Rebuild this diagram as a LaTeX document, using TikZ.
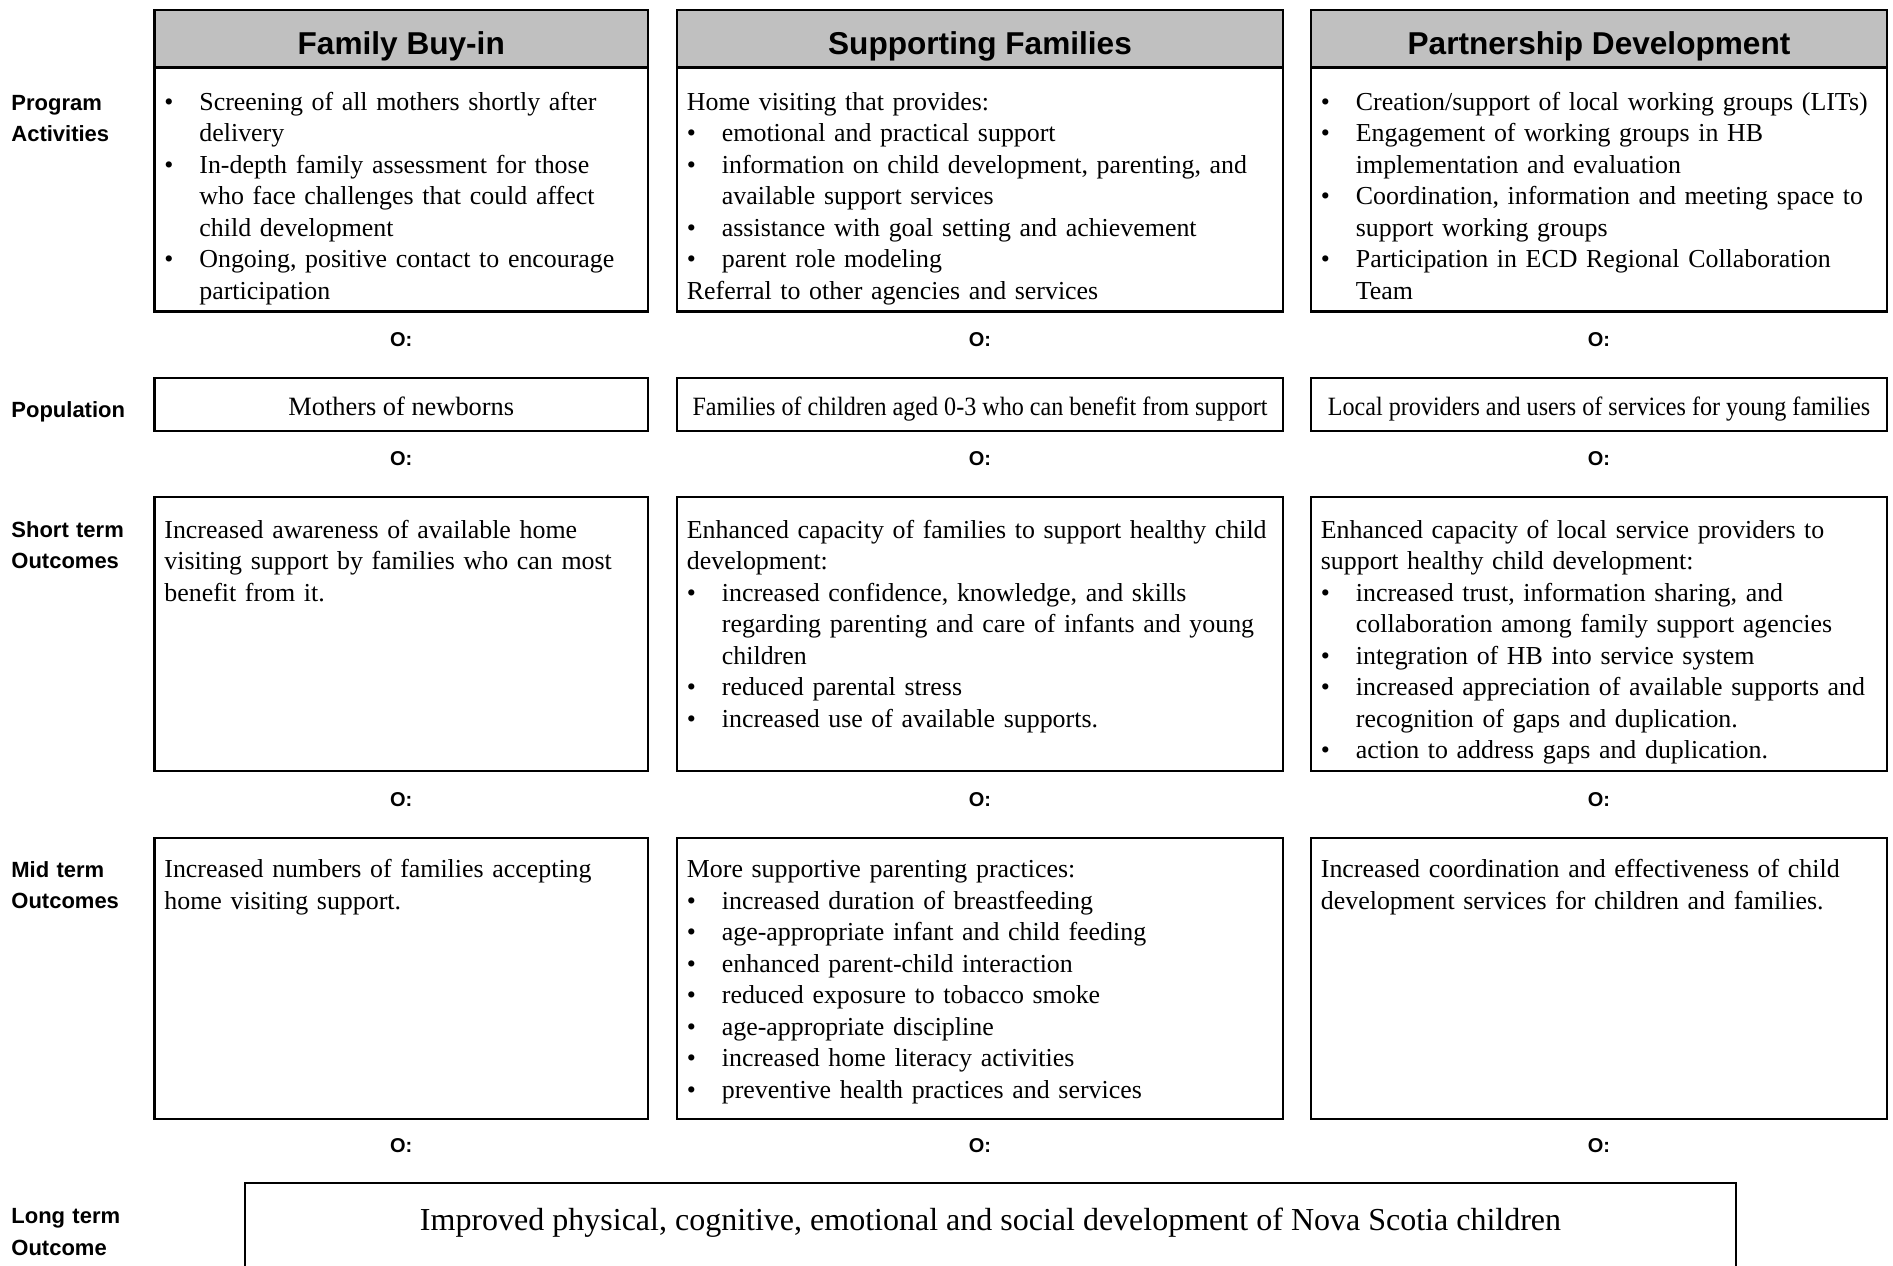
\documentclass[tikz,border=0pt]{standalone}
\usepackage{fontspec}
\usepackage{xcolor}
\usepackage{tikz}
\setmainfont{Liberation Serif}
\newfontfamily\hdfont{Liberation Sans}
\newfontfamily\squeezed{Liberation Serif}[FakeStretch=0.913]
\usetikzlibrary{positioning, calc}
\definecolor{headgray}{HTML}{C0C0C0}
% bullet items: \fitm opens the text, \itm follows a line
\newcommand{\fitm}[1]{\hangindent=17.5pt\hangafter=1\makebox[17.5pt][l]{\textbullet}#1}
\newcommand{\itm}[1]{\par\hangindent=17.5pt\hangafter=1\noindent\makebox[17.5pt][l]{\textbullet}#1}
\tikzset{
  box/.style={
    rectangle, draw=black, line width=1.4pt,
    outer sep=0pt, inner sep=0pt,
    font=\fontsize{13.2}{15.75}\selectfont,
  },
  head/.style={
    box, fill=headgray, minimum height=28.75pt,
    text height=15.6pt, text depth=0pt,
    font=\hdfont\bfseries\fontsize{15.8}{18}\selectfont,
  },
  popbox/.style={box, minimum height=26.5pt, text height=10.5pt, text depth=0pt},
  txt/.style={
    anchor=base west, inner sep=0pt, align=left,
    font=\fontsize{12.95}{15.75}\selectfont,
  },
  rowlbl/.style={
    anchor=base west, inner sep=0pt, align=left, text width=70pt,
    font=\hdfont\bfseries\fontsize{11}{15.75}\selectfont,
  },
  omark/.style={inner sep=0pt, font=\hdfont\bfseries\fontsize{10}{12}\selectfont},
  c1/.style={minimum width=246.75pt},
  c2/.style={minimum width=303pt},
  c3/.style={minimum width=288pt},
}

\begin{document}
\begin{tikzpicture}[x=1pt,y=1pt]
  \useasboundingbox (0,0) rectangle (946.5,-632.5);
  \clip (0,0) rectangle (946.5,-632.5);

  % column heads
  \node[head,c1,anchor=north west] (fb-head) at (77.25,-5) {Family Buy-in};
  \node[head,c2,right=14.5pt of fb-head] (sf-head) {Supporting Families};
  \node[head,c3,right=14pt of sf-head] (pd-head) {Partnership Development};

  % program activities
  \node[box,c1,minimum height=122pt,below=0pt of fb-head] (fb-act) {};
  \node[box,c2,minimum height=122pt,below=0pt of sf-head] (sf-act) {};
  \node[box,c3,minimum height=122pt,below=0pt of pd-head] (pd-act) {};
  \node[txt,text width=240pt,xshift=4.75pt,yshift=-21.25pt] (fb-act-txt) at (fb-act.north west)
    {\fitm{Screening of all mothers shortly after\newline delivery}
     \itm{In-depth family assessment for those\newline who face challenges that could affect\newline child development}
     \itm{Ongoing, positive contact to encourage\newline participation}\par};
  \node[txt,text width=296pt,xshift=4.75pt,yshift=-21.25pt] (sf-act-txt) at (sf-act.north west)
    {Home visiting that provides:
     \itm{emotional and practical support}
     \itm{information on child development, parenting, and\newline available support services}
     \itm{assistance with goal setting and achievement}
     \itm{parent role modeling}
     \par\noindent Referral to other agencies and services\par};
  \node[txt,text width=282pt,xshift=4.75pt,yshift=-21.25pt] (pd-act-txt) at (pd-act.north west)
    {\fitm{Creation/support of local working groups (LITs)}
     \itm{Engagement of working groups in HB\newline implementation and evaluation}
     \itm{Coordination, information and meeting space to\newline support working groups}
     \itm{Participation in ECD Regional Collaboration\newline Team}\par};

  % population
  \node[popbox,c1,below=33.25pt of fb-act] (fb-pop) {Mothers of newborns};
  \node[popbox,c2,below=33.25pt of sf-act,font=\squeezed\fontsize{13.2}{15.75}\selectfont] (sf-pop)
    {Families of children aged 0-3 who can benefit from support};
  \node[popbox,c3,below=33.25pt of pd-act,font=\squeezed\fontsize{13.2}{15.75}\selectfont] (pd-pop)
    {Local providers and users of services for young families};

  % short term outcomes
  \node[box,c1,minimum height=137pt,below=33pt of fb-pop] (fb-st) {};
  \node[box,c2,minimum height=137pt,below=33pt of sf-pop] (sf-st) {};
  \node[box,c3,minimum height=137pt,below=33pt of pd-pop] (pd-st) {};
  \node[txt,text width=240pt,xshift=4.75pt,yshift=-20.5pt] (fb-st-txt) at (fb-st.north west)
    {Increased awareness of available home\newline visiting support by families who can most\newline benefit from it.};
  \node[txt,text width=296pt,xshift=4.75pt,yshift=-20.5pt] (sf-st-txt) at (sf-st.north west)
    {Enhanced capacity of families to support healthy child\newline development:
     \itm{increased confidence, knowledge, and skills\newline regarding parenting and care of infants and young\newline children}
     \itm{reduced parental stress}
     \itm{increased use of available supports.}\par};
  \node[txt,text width=282pt,xshift=4.75pt,yshift=-20.5pt] (pd-st-txt) at (pd-st.north west)
    {Enhanced capacity of local service providers to\newline support healthy child development:
     \itm{increased trust, information sharing, and\newline collaboration among family support agencies}
     \itm{integration of HB into service system}
     \itm{increased appreciation of available supports and\newline recognition of gaps and duplication.}
     \itm{action to address gaps and duplication.}\par};

  % mid term outcomes
  \node[box,c1,minimum height=140.5pt,below=33.5pt of fb-st] (fb-mt) {};
  \node[box,c2,minimum height=140.5pt,below=33.5pt of sf-st] (sf-mt) {};
  \node[box,c3,minimum height=140.5pt,below=33.5pt of pd-st] (pd-mt) {};
  \node[txt,text width=240pt,xshift=4.75pt,yshift=-19.75pt] (fb-mt-txt) at (fb-mt.north west)
    {Increased numbers of families accepting\newline home visiting support.};
  \node[txt,text width=296pt,xshift=4.75pt,yshift=-19.75pt] (sf-mt-txt) at (sf-mt.north west)
    {More supportive parenting practices:
     \itm{increased duration of breastfeeding}
     \itm{age-appropriate infant and child feeding}
     \itm{enhanced parent-child interaction}
     \itm{reduced exposure to tobacco smoke}
     \itm{age-appropriate discipline}
     \itm{increased home literacy activities}
     \itm{preventive health practices and services}\par};
  \node[txt,text width=282pt,xshift=4.75pt,yshift=-19.75pt] (pd-mt-txt) at (pd-mt.north west)
    {Increased coordination and effectiveness of child\newline development services for children and families.};

  % long term outcome
  \node[box,minimum width=745.5pt,minimum height=60pt,anchor=north west] (lt-box) at (122.5,-591.5) {};
  \node[anchor=base,inner sep=0pt,font=\fontsize{16}{19}\selectfont,yshift=-23.5pt] (lt-txt) at (lt-box.north)
    {Improved physical, cognitive, emotional and social development of Nova Scotia children};

  % marks between rows
  \node[omark] (fb-m1) at ($(fb-act.south)!0.5!(fb-pop.north)+(0,2.5)$) {O:};
  \node[omark] (sf-m1) at ($(sf-act.south)!0.5!(sf-pop.north)+(0,2.5)$) {O:};
  \node[omark] (pd-m1) at ($(pd-act.south)!0.5!(pd-pop.north)+(0,2.5)$) {O:};
  \node[omark] (fb-m2) at ($(fb-pop.south)!0.5!(fb-st.north)+(0,2.5)$) {O:};
  \node[omark] (sf-m2) at ($(sf-pop.south)!0.5!(sf-st.north)+(0,2.5)$) {O:};
  \node[omark] (pd-m2) at ($(pd-pop.south)!0.5!(pd-st.north)+(0,2.5)$) {O:};
  \node[omark] (fb-m3) at ($(fb-st.south)!0.5!(fb-mt.north)+(0,2.5)$) {O:};
  \node[omark] (sf-m3) at ($(sf-st.south)!0.5!(sf-mt.north)+(0,2.5)$) {O:};
  \node[omark] (pd-m3) at ($(pd-st.south)!0.5!(pd-mt.north)+(0,2.5)$) {O:};
  \node[omark] (fb-m4) at ($(fb-mt.south)!0.5!(lt-box.north -| fb-mt.south)+(0,2.5)$) {O:};
  \node[omark] (sf-m4) at ($(sf-mt.south)!0.5!(lt-box.north -| sf-mt.south)+(0,2.5)$) {O:};
  \node[omark] (pd-m4) at ($(pd-mt.south)!0.5!(lt-box.north -| pd-mt.south)+(0,2.5)$) {O:};

  % row labels
  \node[rowlbl] (lbl-act) at (5.5,-55) {Program\\Activities};
  \node[rowlbl] (lbl-pop) at (5.5,-208.5) {Population};
  \node[rowlbl] (lbl-st) at (5.5,-268.5) {Short term\\Outcomes};
  \node[rowlbl] (lbl-mt) at (5.5,-438.5) {Mid term\\Outcomes};
  \node[rowlbl] (lbl-lt) at (5.5,-611.8) {Long term\\Outcome};
\end{tikzpicture}
\end{document}
